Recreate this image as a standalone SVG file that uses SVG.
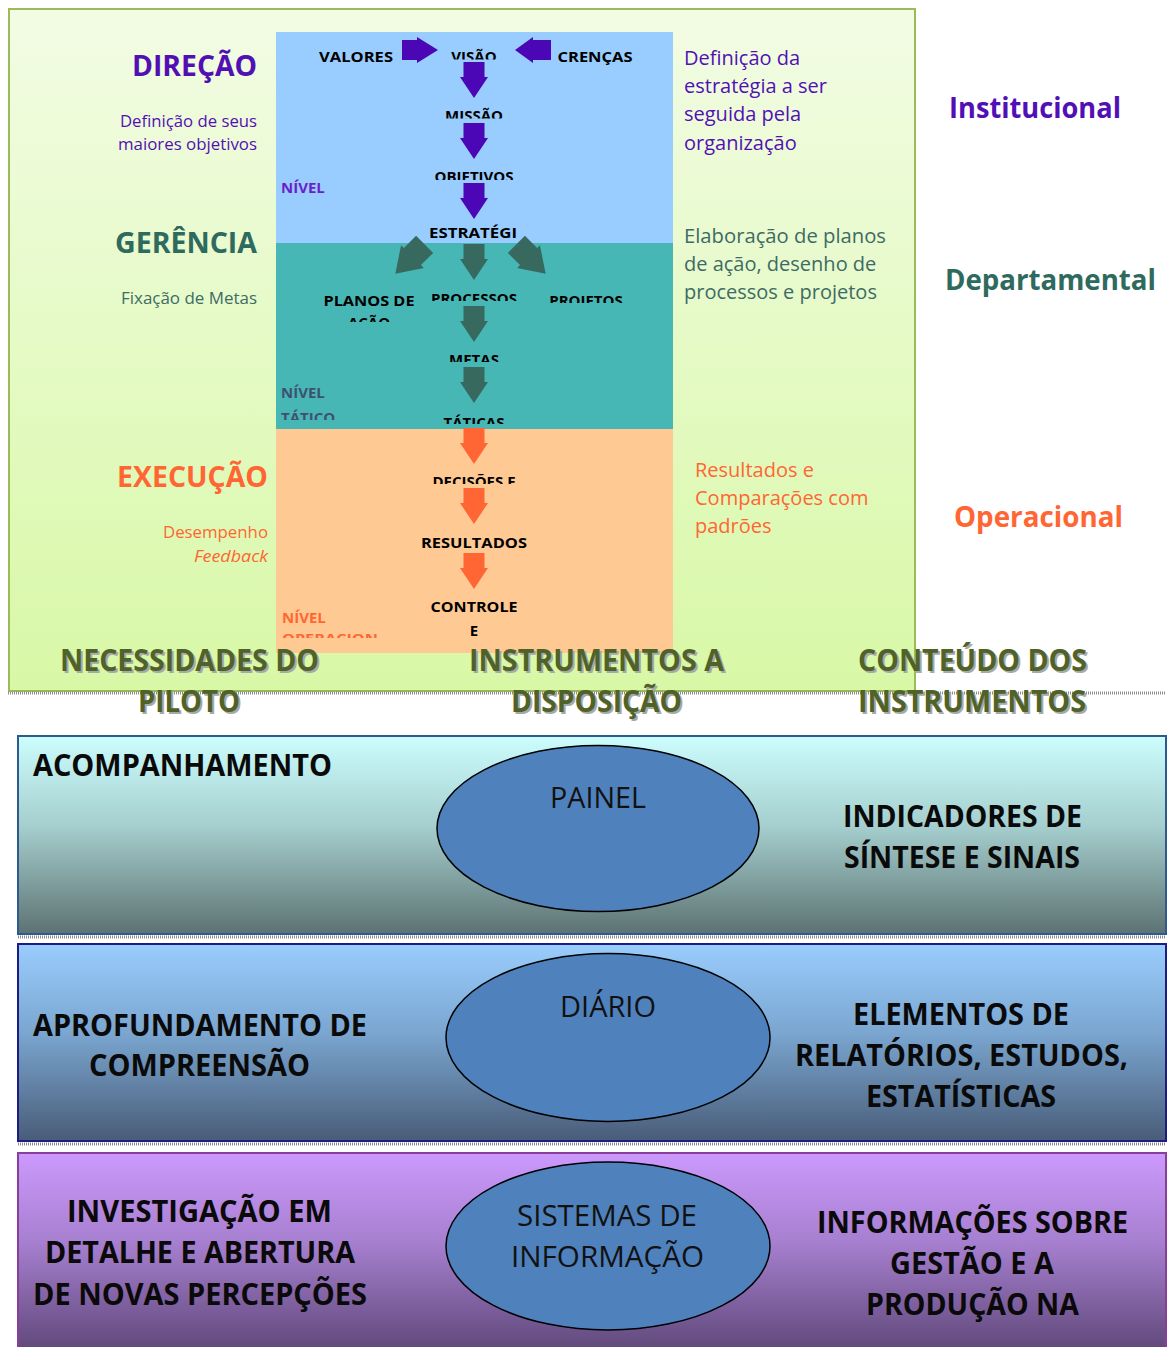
<svg xmlns="http://www.w3.org/2000/svg" width="1170" height="1347" viewBox="0 0 1170 1347">
<defs>
<linearGradient id="gGreen" x1="0" y1="0" x2="0" y2="1">
<stop offset="0" stop-color="#f2fce4"/><stop offset="1" stop-color="#d8f8a6"/>
</linearGradient>
<linearGradient id="gB1" x1="0" y1="0" x2="0" y2="1">
<stop offset="0" stop-color="#ccfdfd"/><stop offset="0.45" stop-color="#a6cfcf"/><stop offset="1" stop-color="#5d7272"/>
</linearGradient>
<linearGradient id="gB2" x1="0" y1="0" x2="0" y2="1">
<stop offset="0" stop-color="#9acdfd"/><stop offset="0.45" stop-color="#7aa6d0"/><stop offset="1" stop-color="#495c78"/>
</linearGradient>
<linearGradient id="gB3" x1="0" y1="0" x2="0" y2="1">
<stop offset="0" stop-color="#cc99fd"/><stop offset="0.45" stop-color="#a67fcf"/><stop offset="1" stop-color="#5e4778"/>
</linearGradient>
<path id="down" d="M-10.5,0 H10.5 V15 H14 L0,36 L-14,15 H-10.5 Z"/>
<clipPath id="cVisao" clipPathUnits="userSpaceOnUse"><rect x="276" y="32" width="397" height="27.5"/></clipPath>
<clipPath id="cMissao" clipPathUnits="userSpaceOnUse"><rect x="276" y="100" width="397" height="18.5"/></clipPath>
<clipPath id="cObj" clipPathUnits="userSpaceOnUse"><rect x="276" y="160" width="397" height="20"/></clipPath>
<clipPath id="cAcao" clipPathUnits="userSpaceOnUse"><rect x="276" y="310" width="397" height="12"/></clipPath>
<clipPath id="cProc" clipPathUnits="userSpaceOnUse"><rect x="276" y="285" width="397" height="16"/></clipPath>
<clipPath id="cProj" clipPathUnits="userSpaceOnUse"><rect x="276" y="285" width="397" height="18"/></clipPath>
<clipPath id="cMetas" clipPathUnits="userSpaceOnUse"><rect x="276" y="345" width="397" height="17"/></clipPath>
<clipPath id="cTaticas" clipPathUnits="userSpaceOnUse"><rect x="276" y="405" width="397" height="19"/></clipPath>
<clipPath id="cTatico" clipPathUnits="userSpaceOnUse"><rect x="276" y="405" width="397" height="15"/></clipPath>
<clipPath id="cDec" clipPathUnits="userSpaceOnUse"><rect x="276" y="465" width="397" height="19"/></clipPath>
<clipPath id="cOper" clipPathUnits="userSpaceOnUse"><rect x="276" y="628" width="397" height="10"/></clipPath>
</defs>
<style>
text{font-family:"Open Sans","Liberation Sans",sans-serif}
.pt{font-size:15px;font-weight:bold;fill:#000}
.bt{font-size:31px;font-weight:bold;fill:#0a0a0a}
.et{font-size:29px;fill:#111}
.hd{font-size:30px;font-weight:bold;fill:#4f6228}
.hs{font-size:30px;font-weight:bold;fill:#a8a8a8}
.big{font-size:28px;font-weight:bold}
.sm{font-size:16px}
.rc{font-size:20px}
.pur{fill:#5210b4}
.tea{fill:#2f6a5e}
.tea2{fill:#3d6b66}
.ora{fill:#ff6633}
.hatch{stroke:#8c8c8c;stroke-width:3;stroke-dasharray:1 1}
</style>

<g id="frame">
<rect x="9" y="9" width="906" height="682" fill="url(#gGreen)" stroke="#9bbb59" stroke-width="2"/>
<line class="hatch" x1="8" y1="693" x2="1166" y2="693"/>
</g>

<g id="level-panels">
<rect x="276" y="32" width="397" height="211" fill="#99ccff"/>
<rect x="276" y="243" width="397" height="186" fill="#47b7b6"/>
<rect x="276" y="429" width="397" height="224" fill="#ffc993"/>
</g>

<g id="connectors">
<g fill="#4b06b5">
<path d="M402,40 H417 V37 L438,50 L417,63 V60 H402 Z"/>
<path d="M551,40 H533 V37 L515,50 L533,63 V60 H551 Z"/>
<use href="#down" x="474" y="62"/>
<use href="#down" x="474" y="123"/>
<use href="#down" x="474" y="183"/>
</g>
<g fill="#37695f">
<use href="#down" transform="translate(410,259) rotate(45) scale(1.15) translate(0,-18)"/>
<use href="#down" x="474" y="244"/>
<use href="#down" transform="translate(531,259) rotate(-45) scale(1.15) translate(0,-18)"/>
<use href="#down" x="474" y="306"/>
<use href="#down" x="474" y="367"/>
</g>
<g fill="#ff6633">
<use href="#down" x="474" y="428"/>
<use href="#down" x="474" y="488"/>
<use href="#down" x="474" y="553"/>
</g>
</g>

<g id="panel-texts" text-anchor="middle">
<text class="pt" x="356" y="62" textLength="74" lengthAdjust="spacingAndGlyphs">VALORES</text>
<text class="pt" x="474" y="62" clip-path="url(#cVisao)">VISÃO</text>
<text class="pt" x="595" y="62" textLength="75" lengthAdjust="spacingAndGlyphs">CRENÇAS</text>
<text class="pt" x="474" y="121" clip-path="url(#cMissao)">MISSÃO</text>
<text class="pt" x="474" y="182" clip-path="url(#cObj)">OBJETIVOS</text>
<text class="pt" x="473" y="238" textLength="88" lengthAdjust="spacingAndGlyphs">ESTRATÉGI</text>
<text class="pt" x="369" y="306" textLength="91" lengthAdjust="spacingAndGlyphs">PLANOS DE</text>
<text class="pt" x="369" y="328" clip-path="url(#cAcao)">AÇÃO</text>
<text class="pt" x="474" y="304" clip-path="url(#cProc)">PROCESSOS</text>
<text class="pt" x="586" y="306" clip-path="url(#cProj)">PROJETOS</text>
<text class="pt" x="474" y="365" clip-path="url(#cMetas)">METAS</text>
<text class="pt" x="474" y="428" clip-path="url(#cTaticas)">TÁTICAS</text>
<text class="pt" x="474" y="487" clip-path="url(#cDec)">DECISÕES E</text>
<text class="pt" x="474" y="548" textLength="106" lengthAdjust="spacingAndGlyphs">RESULTADOS</text>
<text class="pt" x="474" y="612" textLength="87" lengthAdjust="spacingAndGlyphs">CONTROLE</text>
<text class="pt" x="474" y="636">E</text>
</g>

<g id="nivel-labels" font-size="15" font-weight="bold">
<text x="281" y="193" fill="#6a1fc8">NÍVEL</text>
<text x="281" y="398" fill="#3f5170">NÍVEL</text>
<text x="281" y="423" fill="#3f5170" clip-path="url(#cTatico)">TÁTICO</text>
<text x="282" y="623" fill="#ff6633">NÍVEL</text>
<text x="282" y="643" font-size="13" fill="#ff6633" clip-path="url(#cOper)" textLength="96" lengthAdjust="spacingAndGlyphs">OPERACION</text>
</g>

<g id="left-labels">
<text class="big pur" x="132" y="76" textLength="125" lengthAdjust="spacingAndGlyphs">DIREÇÃO</text>
<text class="sm pur" x="120" y="127" textLength="137" lengthAdjust="spacingAndGlyphs">Definição de seus</text>
<text class="sm pur" x="118" y="150" textLength="139" lengthAdjust="spacingAndGlyphs">maiores objetivos</text>
<text class="big tea" x="115" y="253" textLength="142" lengthAdjust="spacingAndGlyphs">GERÊNCIA</text>
<text class="sm tea2" x="121" y="304" textLength="136" lengthAdjust="spacingAndGlyphs">Fixação de Metas</text>
<text class="big ora" x="117" y="487" textLength="151" lengthAdjust="spacingAndGlyphs">EXECUÇÃO</text>
<text class="sm ora" x="163" y="538" textLength="105" lengthAdjust="spacingAndGlyphs">Desempenho</text>
<text class="sm ora" x="194" y="562" font-style="italic" textLength="74" lengthAdjust="spacingAndGlyphs">Feedback</text>
</g>

<g id="right-desc">
<text class="rc pur" x="684" y="65">Definição da</text>
<text class="rc pur" x="684" y="93">estratégia a ser</text>
<text class="rc pur" x="684" y="121">seguida pela</text>
<text class="rc pur" x="684" y="150">organização</text>
<text class="rc tea2" x="684" y="243" textLength="202" lengthAdjust="spacingAndGlyphs">Elaboração de planos</text>
<text class="rc tea2" x="684" y="271">de ação, desenho de</text>
<text class="rc tea2" x="684" y="299">processos e projetos</text>
<text class="rc ora" x="695" y="477">Resultados e</text>
<text class="rc ora" x="695" y="505">Comparações com</text>
<text class="rc ora" x="695" y="533">padrões</text>
</g>

<g id="level-names">
<text class="big pur" x="949" y="118" textLength="172" lengthAdjust="spacingAndGlyphs">Institucional</text>
<text class="big tea" x="945" y="290" textLength="211" lengthAdjust="spacingAndGlyphs">Departamental</text>
<text class="big ora" x="954" y="527" textLength="169" lengthAdjust="spacingAndGlyphs">Operacional</text>
</g>

<g id="headers">
<text class="hs" x="62" y="673" textLength="259" lengthAdjust="spacingAndGlyphs">NECESSIDADES DO</text>
<text class="hs" x="140" y="714" textLength="102" lengthAdjust="spacingAndGlyphs">PILOTO</text>
<text class="hs" x="471" y="673" textLength="255" lengthAdjust="spacingAndGlyphs">INSTRUMENTOS A</text>
<text class="hs" x="513" y="714" textLength="171" lengthAdjust="spacingAndGlyphs">DISPOSIÇÃO</text>
<text class="hs" x="860" y="673" textLength="229" lengthAdjust="spacingAndGlyphs">CONTEÚDO DOS</text>
<text class="hs" x="860" y="714" textLength="228" lengthAdjust="spacingAndGlyphs">INSTRUMENTOS</text>
<text class="hd" x="60" y="671" textLength="259" lengthAdjust="spacingAndGlyphs">NECESSIDADES DO</text>
<text class="hd" x="138" y="712" textLength="102" lengthAdjust="spacingAndGlyphs">PILOTO</text>
<text class="hd" x="469" y="671" textLength="255" lengthAdjust="spacingAndGlyphs">INSTRUMENTOS A</text>
<text class="hd" x="511" y="712" textLength="171" lengthAdjust="spacingAndGlyphs">DISPOSIÇÃO</text>
<text class="hd" x="858" y="671" textLength="229" lengthAdjust="spacingAndGlyphs">CONTEÚDO DOS</text>
<text class="hd" x="858" y="712" textLength="228" lengthAdjust="spacingAndGlyphs">INSTRUMENTOS</text>
</g>

<g id="band-acompanhamento">
<rect x="18" y="736" width="1148" height="198" fill="url(#gB1)" stroke="#2e5b8f" stroke-width="2"/>
<line class="hatch" x1="18" y1="937" x2="1166" y2="937"/>
<ellipse cx="598" cy="828.5" rx="161" ry="83" fill="#4f81bd" stroke="#000" stroke-width="1.5"/>
<text class="et" x="550" y="808" textLength="96" lengthAdjust="spacingAndGlyphs">PAINEL</text>
<text class="bt" x="33" y="776" textLength="299" lengthAdjust="spacingAndGlyphs">ACOMPANHAMENTO</text>
<text class="bt" x="843" y="827" textLength="239" lengthAdjust="spacingAndGlyphs">INDICADORES DE</text>
<text class="bt" x="844" y="868" textLength="236" lengthAdjust="spacingAndGlyphs">SÍNTESE E SINAIS</text>
</g>

<g id="band-aprofundamento">
<rect x="18" y="944" width="1148" height="197" fill="url(#gB2)" stroke="#1c1c86" stroke-width="2"/>
<line class="hatch" x1="18" y1="1144" x2="1166" y2="1144"/>
<ellipse cx="608" cy="1037.5" rx="162" ry="84" fill="#4f81bd" stroke="#000" stroke-width="1.5"/>
<text class="et" x="560" y="1017" textLength="96" lengthAdjust="spacingAndGlyphs">DIÁRIO</text>
<text class="bt" x="33" y="1036" textLength="334" lengthAdjust="spacingAndGlyphs">APROFUNDAMENTO DE</text>
<text class="bt" x="89" y="1076" textLength="221" lengthAdjust="spacingAndGlyphs">COMPREENSÃO</text>
<text class="bt" x="853" y="1025" textLength="216" lengthAdjust="spacingAndGlyphs">ELEMENTOS DE</text>
<text class="bt" x="795" y="1066" textLength="333" lengthAdjust="spacingAndGlyphs">RELATÓRIOS, ESTUDOS,</text>
<text class="bt" x="866" y="1107" textLength="190" lengthAdjust="spacingAndGlyphs">ESTATÍSTICAS</text>
</g>

<g id="band-investigacao">
<rect x="18" y="1153" width="1148" height="200" fill="url(#gB3)" stroke="#8b3d9c" stroke-width="2"/>
<ellipse cx="608" cy="1246" rx="162" ry="84" fill="#4f81bd" stroke="#000" stroke-width="1.5"/>
<text class="et" x="517" y="1226" textLength="180" lengthAdjust="spacingAndGlyphs">SISTEMAS DE</text>
<text class="et" x="511" y="1267" textLength="193" lengthAdjust="spacingAndGlyphs">INFORMAÇÃO</text>
<text class="bt" x="67" y="1222" textLength="265" lengthAdjust="spacingAndGlyphs">INVESTIGAÇÃO EM</text>
<text class="bt" x="45" y="1263" textLength="310" lengthAdjust="spacingAndGlyphs">DETALHE E ABERTURA</text>
<text class="bt" x="33" y="1305" textLength="334" lengthAdjust="spacingAndGlyphs">DE NOVAS PERCEPÇÕES</text>
<text class="bt" x="817" y="1233" textLength="311" lengthAdjust="spacingAndGlyphs">INFORMAÇÕES SOBRE</text>
<text class="bt" x="890" y="1274" textLength="164" lengthAdjust="spacingAndGlyphs">GESTÃO E A</text>
<text class="bt" x="866" y="1315" textLength="213" lengthAdjust="spacingAndGlyphs">PRODUÇÃO NA</text>
</g>
</svg>
